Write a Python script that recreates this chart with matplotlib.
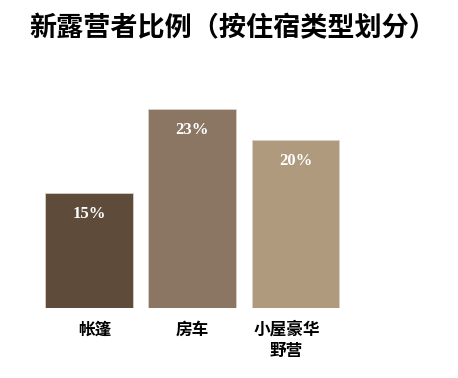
import matplotlib
matplotlib.use("Agg")
import matplotlib.pyplot as plt

categories = ["帐篷", "房车", "小屋豪华\n野营"]
values = [15, 23, 20]
labels = ["15%", "23%", "20%"]
colors = ["#5e4b3a", "#8a7662", "#b09a7e"]

plt.rcParams['font.family'] = ['Noto Sans CJK SC', 'DejaVu Sans']

W, H = 458, 378
fig = plt.figure(figsize=(W/100, H/100), dpi=100)
left, right = 37.5, 347
bottom_px, top_px = 308, 100
ax = fig.add_axes([left/W, (H-bottom_px)/H, (right-left)/W, (bottom_px-top_px)/H])
ymin = 4.0
ymax = ymin + (bottom_px - top_px) / 10.5
x = range(len(values))
ax.bar(x, [v - ymin for v in values], bottom=ymin, width=0.85, color=colors,
       edgecolor="#d8d0c6", linewidth=0.6)
ax.set_xlim(-0.5, 2.5)
ax.set_ylim(ymin, ymax)
ax.axis('off')
for i, (v, t) in enumerate(zip(values, labels)):
    ax.text(i, v - 2.0, t, ha='center', va='center', color='white',
            fontsize=12, fontweight='bold', family=['Liberation Serif', 'DejaVu Serif'])
label_offsets = [6, 0, -9]
for i, c in enumerate(categories):
    xc = left + (i + 0.5) * (right - left) / 3 + label_offsets[i]
    fig.text(xc / W, (H - 321) / H, c,
             ha='center', va='top', fontsize=12, fontweight='bold', linespacing=1.2)
fig.text(233 / W, (H - 28) / H, "新露营者比例（按住宿类型划分）", ha='center', va='center',
         fontsize=19.5, fontweight='bold')
fig.savefig("out.png", dpi=100)
